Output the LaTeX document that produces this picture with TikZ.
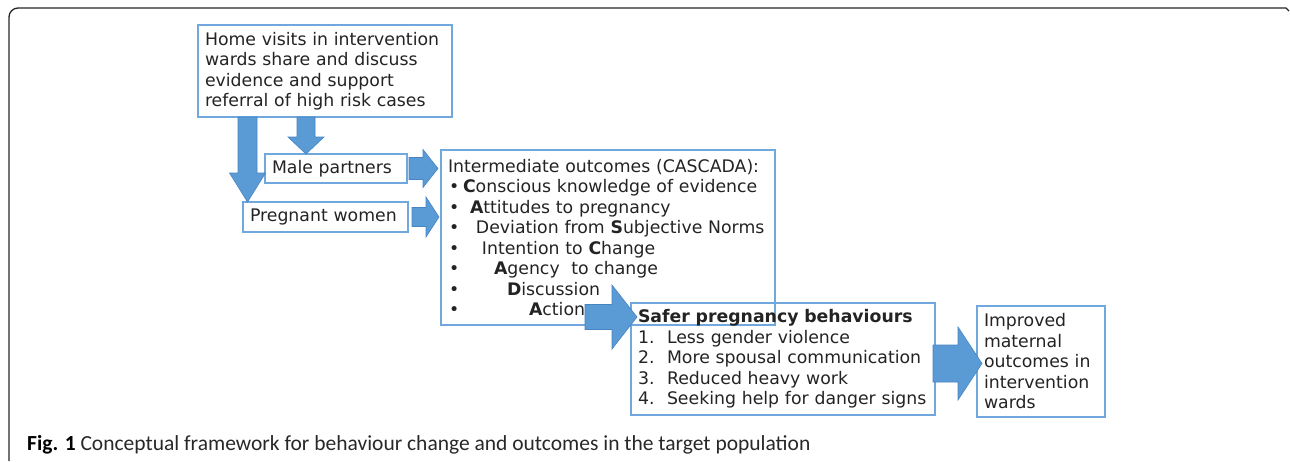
\documentclass[tikz,border=0pt]{standalone}
\usepackage{fontspec}
\setmainfont{DejaVu Sans}
\newfontfamily\capfont{Carlito}
\usetikzlibrary{calc}
\definecolor{boxblue}{RGB}{112,168,222}
\definecolor{arrfill}{RGB}{91,155,213}
\definecolor{arrline}{RGB}{72,132,196}
\definecolor{txt}{RGB}{35,35,35}
\definecolor{captxt}{RGB}{40,40,40}
\newcommand\bitem[2]{\makebox[#1pt][l]{\hspace*{1pt}•}#2}
\newcommand\nitem[2]{\makebox[29pt][l]{#1}#2}
\newcommand\blockarrow[5]{%
  \path (#2) coordinate (ba-tip) ($(#2)!#5!(#1)$) coordinate (ba-base);
  \filldraw[blockarr] ($(#1)!#3!90:(#2)$) -- ($(ba-base)!#3!90:(ba-tip)$) -- ($(ba-base)!#4!90:(ba-tip)$) -- (ba-tip)
    -- ($(ba-base)!#4!-90:(ba-tip)$) -- ($(ba-base)!#3!-90:(ba-tip)$) -- ($(#1)!#3!-90:(#2)$) -- cycle;}
\tikzset{
  box/.style={draw=boxblue, line width=1.3pt, inner xsep=7pt, inner ysep=0pt, outer sep=0pt,
    anchor=north west, align=left, text=txt, font=\fontsize{17.3}{20.5}\selectfont},
  blockarr/.style={fill=arrfill, draw=arrline, line width=0.6pt, line join=miter},
}
\begin{document}
\begin{tikzpicture}[x=1pt,y=-1pt]
\useasboundingbox (0,0) rectangle (1290,461);
% outer frame
\draw[line width=1.3pt, black!85, line join=round] (9,461) -- (9,17) arc[start angle=180, end angle=90, radius=9pt] -- (1286,8) -- (1289,11);
% boxes
\node[box, text width=240pt, minimum height=92pt] (home) at (198,25)
  {Home visits in intervention\\wards share and discuss\\evidence and support\\referral of high risk cases};
\node[box, text width=128pt, minimum height=29pt] (male) at (265,154) {Male partners};
\node[box, text width=151pt, minimum height=30pt] (preg) at (243,202) {Pregnant women};
\node[box, text width=320pt, minimum height=175pt] (cascada) at (441,150)
  {Intermediate outcomes (CASCADA):\\
   \bitem{15}{\textbf{C}onscious knowledge of evidence}\\
   \bitem{22}{\textbf{A}ttitudes to pregnancy}\\
   \bitem{28}{Deviation from \textbf{S}ubjective Norms}\\
   \bitem{34}{Intention to \textbf{C}hange}\\
   \bitem{46}{\textbf{A}gency\ \ to change}\\
   \bitem{59}{\textbf{D}iscussion}\\
   \bitem{81}{\textbf{A}ction}};
\node[box, text width=290pt, minimum height=112pt] (safer) at (631,303)
  {\textbf{Safer pregnancy behaviours}\\
   \nitem{1.}{Less gender violence}\\
   \nitem{2.}{More spousal communication}\\
   \nitem{3.}{Reduced heavy work}\\
   \nitem{4.}{Seeking help for danger signs}};
\node[box, text width=114pt, minimum height=111pt] (improved) at (977,306)
  {Improved\\maternal\\outcomes in\\intervention\\wards};
% connector end points
\coordinate (a1s) at (home.south -| 247.5,0);
\coordinate (a1e) at (preg.north -| 247.5,0);
\coordinate (a2s) at (home.south -| 306,0);
\coordinate (a2e) at (male.north -| 306,0);
\coordinate (a3s) at ($(male.east |- 0,168.5)+(2,0)$);
\coordinate (a3e) at ($(cascada.west |- 0,168.5)+(-3,0)$);
\coordinate (a4s) at ($(preg.east |- 0,217)+(4,0)$);
\coordinate (a4e) at ($(cascada.west |- 0,217)+(-2,0)$);
\coordinate (a5s) at (585,317);
\coordinate (a5e) at ($(safer.west |- a5s)+(6,0)$);
\coordinate (a6s) at ($(safer.east |- 0,363.5)+(-2,0)$);
\coordinate (a6e) at ($(improved.west |- 0,363.5)+(5,0)$);
\blockarrow{a1s}{a1e}{9.5pt}{18pt}{29pt}
\blockarrow{a2s}{a2e}{9pt}{18pt}{17pt}
\blockarrow{a3s}{a3e}{11pt}{19pt}{15pt}
\blockarrow{a4s}{a4e}{9.5pt}{20pt}{13pt}
\blockarrow{a5s}{a5e}{12.5pt}{32pt}{25pt}
\blockarrow{a6s}{a6e}{18.5pt}{36.5pt}{24pt}
% caption
\node[anchor=west, inner sep=0pt, text=captxt, font=\capfont\fontsize{21.5}{24}\selectfont] (caption) at (27,445)
  {\textcolor{black}{\textbf{Fig. 1}} Conceptual framework for behaviour change and outcomes in the target population};
\end{tikzpicture}
\end{document}
